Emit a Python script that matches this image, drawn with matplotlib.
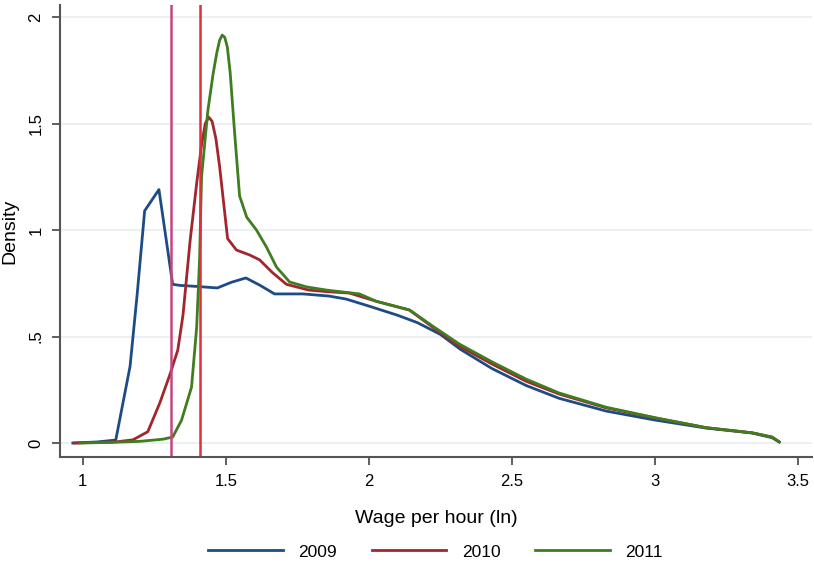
import matplotlib
matplotlib.use("Agg")
import matplotlib.pyplot as plt

plt.rcParams["font.family"] = ["Liberation Sans", "DejaVu Sans"]

# kernel density estimates
x_2009 = [0.965, 1.05, 1.115, 1.165, 1.19, 1.216, 1.266, 1.314, 1.34, 1.40, 1.47, 1.52,
          1.57, 1.62, 1.67, 1.77, 1.86, 1.92, 2.0, 2.1, 2.17, 2.25, 2.32, 2.43, 2.55,
          2.665, 2.83, 3.0, 3.18, 3.34, 3.41, 3.435]
y_2009 = [0.0, 0.005, 0.014, 0.36, 0.70, 1.09, 1.19, 0.745, 0.74, 0.735, 0.728, 0.755,
          0.775, 0.74, 0.70, 0.70, 0.69, 0.676, 0.643, 0.60, 0.565, 0.51, 0.44, 0.35, 0.27,
          0.21, 0.15, 0.108, 0.07, 0.047, 0.025, 0.005]

x_2010 = [0.97, 1.05, 1.12, 1.175, 1.227, 1.269, 1.304, 1.332, 1.35, 1.375, 1.398, 1.415,
          1.428, 1.44, 1.452, 1.465, 1.478, 1.506, 1.537, 1.583, 1.618, 1.663, 1.712, 1.79,
          1.86, 1.932, 2.027, 2.142, 2.222, 2.316, 2.432, 2.55, 2.665, 2.83, 3.004, 3.18,
          3.34, 3.41, 3.435]
y_2010 = [0.0, 0.003, 0.006, 0.015, 0.053, 0.188, 0.32, 0.437, 0.60, 0.95, 1.22, 1.40,
          1.50, 1.53, 1.51, 1.43, 1.30, 0.96, 0.906, 0.883, 0.86, 0.80, 0.745, 0.718,
          0.71, 0.704, 0.665, 0.624, 0.545, 0.455, 0.37, 0.29, 0.23, 0.165, 0.117, 0.072,
          0.048, 0.028, 0.005]

x_2011 = [0.99, 1.1, 1.2, 1.28, 1.314, 1.345, 1.38, 1.398, 1.408, 1.415, 1.437, 1.455,
          1.468, 1.478, 1.487, 1.496, 1.505, 1.515, 1.531, 1.548, 1.573, 1.607, 1.642,
          1.677, 1.723, 1.782, 1.852, 1.967, 2.027, 2.142, 2.222, 2.316, 2.432, 2.55, 2.665,
          2.83, 3.004, 3.18, 3.34, 3.41, 3.435]
y_2011 = [0.0, 0.003, 0.008, 0.018, 0.028, 0.107, 0.263, 0.545, 0.86, 1.25, 1.56, 1.73,
          1.83, 1.89, 1.915, 1.905, 1.86, 1.74, 1.45, 1.16, 1.06, 1.0, 0.92,
          0.826, 0.756, 0.733, 0.718, 0.70, 0.665, 0.625, 0.55, 0.465, 0.38, 0.30, 0.235,
          0.168, 0.118, 0.072, 0.048, 0.028, 0.005]

seuils = [1.307, 1.408]
couleurs_seuils = ["#c4467e", "#e0303c"]

x_ticks = [1, 1.5, 2, 2.5, 3, 3.5]
x_labels = ["1", "1.5", "2", "2.5", "3", "3.5"]
y_ticks = [0, 0.5, 1, 1.5, 2]
y_labels = ["0", ".5", "1", "1.5", "2"]

fig = plt.figure(figsize=(8.14, 5.65), dpi=100)
ax = fig.add_axes([0.0737, 0.191, 0.924, 0.80])

ax.plot(x_2009, y_2009, color="#1d4c85", lw=2.0, label="2009")
ax.plot(x_2010, y_2010, color="#a3262e", lw=2.0, label="2010")
ax.plot(x_2011, y_2011, color="#3f7d1f", lw=2.0, label="2011")
for xv, c in zip(seuils, couleurs_seuils):
    ax.axvline(xv, color=c, lw=1.8)

ax.set_xlim(0.92, 3.55)
ax.set_ylim(-0.066, 2.056)
ax.set_xticks(x_ticks)
ax.set_xticklabels(x_labels)
ax.set_yticks(y_ticks)
ax.set_yticklabels(y_labels, rotation=90, va="center")
ax.tick_params(labelsize=12, length=6, width=1.2, color="#444444", pad=6)
ax.grid(axis="y", color="#e6edf1", lw=1.2)
ax.set_axisbelow(True)
for s in ["top", "right"]:
    ax.spines[s].set_visible(False)
for s in ["left", "bottom"]:
    ax.spines[s].set_color("#555555")
    ax.spines[s].set_linewidth(1.5)

ax.set_ylabel("Density", fontsize=14, labelpad=7)
ax.set_xlabel("Wage per hour (ln)", fontsize=14, labelpad=15)

fig.legend(loc="lower center", bbox_to_anchor=(0.535, -0.018), ncol=3, frameon=False,
           fontsize=12.5, handlelength=4.3, handletextpad=0.9, columnspacing=2.0)

fig.savefig("out.png", dpi=100)
